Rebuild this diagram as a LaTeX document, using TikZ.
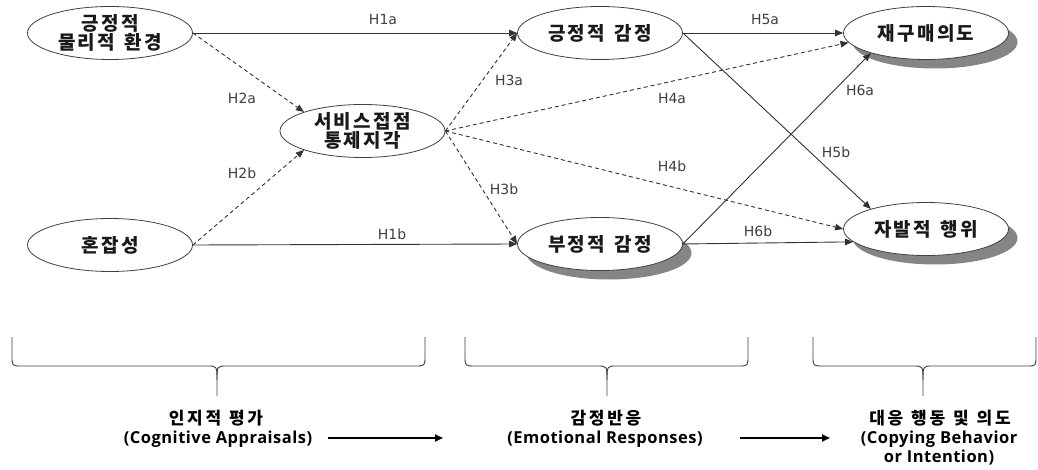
\documentclass[tikz,border=0pt]{standalone}
\usepackage{fontspec}
\usetikzlibrary{shapes.geometric,arrows.meta,shadows}
\newfontfamily\krfont{Noto Sans CJK KR}[LetterSpace=12,WordSpace=1.4]
\newfontfamily\krbot{Noto Sans CJK KR}[LetterSpace=16,WordSpace=1.2]
\newfontfamily\labfont{DejaVu Sans}
\newfontfamily\enfont{Open Sans}[LetterSpace=3]
\definecolor{lineg}{HTML}{333333}
\definecolor{edgeg}{HTML}{404040}
\definecolor{shadg}{HTML}{858585}
\definecolor{labg}{HTML}{404040}
\tikzset{
  elli/.style={ellipse, draw=edgeg, line width=0.8pt, fill=white, minimum width=165pt, minimum height=53pt, inner sep=0pt,
    font=\krfont\bfseries\fontsize{19}{19.5}\selectfont, align=center, text=black!90},
  shad/.style={drop shadow={shadow xshift=9pt, shadow yshift=-9pt, fill=shadg, opacity=1}},
  sol/.style={draw=lineg, line width=0.9pt, -{Triangle[length=8pt,width=6.5pt]}},
  dsh/.style={sol, dash pattern=on 4pt off 3pt},
  lab/.style={font=\labfont\fontsize{14}{16}\selectfont, text=labg, inner sep=0pt},
  bkr/.style={font=\krbot\bfseries\fontsize{17}{19}\selectfont, inner sep=0pt, align=center},
  ben/.style={font=\enfont\bfseries\fontsize{16.5}{19}\selectfont, inner sep=0pt, align=center},
  brc/.style={draw=edgeg, line width=0.9pt},
  bigar/.style={draw=black, line width=1.8pt, -{Triangle[length=8pt,width=7pt]}}
}
\begin{document}
\begin{tikzpicture}[x=1pt,y=-1pt]
\useasboundingbox[fill=white] (0,0) rectangle (1038,470);
% nodes
\node[elli] (pp) at (110,33) {긍정적\\물리적 환경};
\node[elli] (cr) at (110,245) {혼잡성};
\node[elli] (sc) at (362.5,131) {서비스접점\\통제지각};
\node[elli] (pe) at (600,33) {긍정적 감정};
\node[elli,shad] (ne) at (600,244) {부정적 감정};
\node[elli,shad] (rp) at (926,33) {재구매의도};
\node[elli,shad] (jb) at (926,229) {자발적 행위};
% connectors
\draw[sol] (pp.east) -- (pe.west);
\draw[sol] (cr.east) -- (ne.west);
\draw[dsh] (pp.east) -- (sc.162);
\draw[dsh] (cr.east) -- (sc.198);
\draw[dsh] (sc.east) -- (pe.west);
\draw[dsh] (sc.east) -- (ne.west);
\draw[dsh] (sc.east) -- (rp.187);
\draw[dsh] (sc.east) -- (jb.west);
\draw[sol] (pe.east) -- (rp.west);
\draw[sol] (pe.east) -- (jb.160);
\draw[sol] (ne.east) -- (rp.200);
\draw[sol] (ne.east) -- (jb.190);
% labels
\node[lab] (l1a) at (383,19) {H1a};
\node[lab] (l1b) at (392,234) {H1b};
\node[lab] (l2a) at (242,98) {H2a};
\node[lab] (l2b) at (242,173) {H2b};
\node[lab] (l3a) at (509,80) {H3a};
\node[lab] (l3b) at (504,189) {H3b};
\node[lab] (l4a) at (672,98) {H4a};
\node[lab] (l4b) at (672,166) {H4b};
\node[lab] (l5a) at (765,19) {H5a};
\node[lab] (l5b) at (836,152) {H5b};
\node[lab] (l6a) at (860,90) {H6a};
\node[lab] (l6b) at (758,231) {H6b};
% braces
\draw[brc] (12,337) -- (12,356) .. controls (12,366) .. (22,366) -- (207,366) .. controls (217,366) .. (217,380) -- (217,396);
\draw[brc] (217,380) .. controls (217,366) .. (227,366) -- (415,366) .. controls (425,366) .. (425,356) -- (425,337);
\draw[brc] (465,337) -- (465,356) .. controls (465,366) .. (475,366) -- (597,366) .. controls (607,366) .. (607,380) -- (607,396);
\draw[brc] (607,380) .. controls (607,366) .. (617,366) -- (738,366) .. controls (748,366) .. (748,356) -- (748,337);
\draw[brc] (813,337) -- (813,356) .. controls (813,366) .. (823,366) -- (913,366) .. controls (923,366) .. (923,380) -- (923,396);
\draw[brc] (923,380) .. controls (923,366) .. (933,366) -- (1027,366) .. controls (1036,366) .. (1036,356) -- (1036,337);
% bottom texts
\node[bkr] (k1) at (216,418) {인지적 평가};
\node[ben] (e1) at (218,439) {(Cognitive Appraisals)};
\node[bkr] (k2) at (606,418) {감정반응};
\node[ben] (e2) at (605,439) {(Emotional Responses)};
\node[bkr] (k3) at (940,418) {대응 행동 및 의도};
\node[ben] (e3) at (939,448.5) {(Copying Behavior\\or Intention)};
\coordinate (a1s) at (328,438);
\coordinate (a1e) at (443,438);
\coordinate (a2s) at (740,438);
\coordinate (a2e) at (830,438);
\draw[bigar] (a1s) -- (a1e);
\draw[bigar] (a2s) -- (a2e);
\end{tikzpicture}
\end{document}
